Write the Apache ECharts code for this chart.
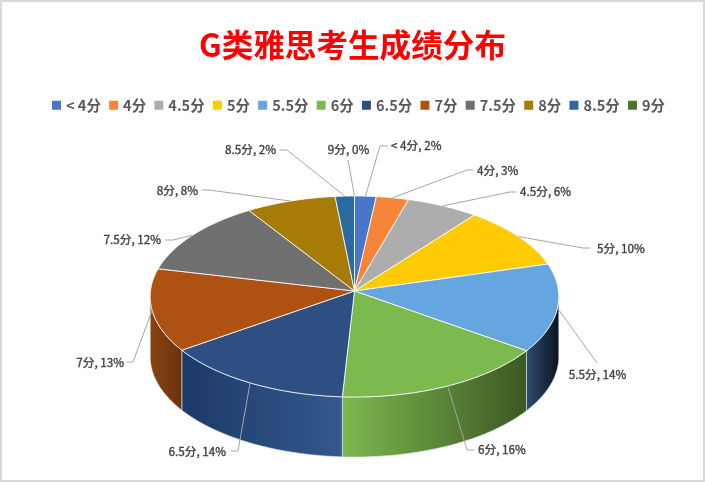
<!DOCTYPE html>
<html><head><meta charset="utf-8">
<style>html,body{margin:0;padding:0;background:#fff}#c{width:705px;height:482px}</style>
<script src="https://cdn.jsdelivr.net/npm/echarts@6/dist/echarts.min.js"></script>
</head><body><div id="c"></div>
<script>
const titleText = 'G类雅思考生成绩分布';
const categories = ['< 4分','4分','4.5分','5分','5.5分','6分','6.5分','7分','7.5分','8分','8.5分','9分'];
const shares = [1.8,2.7,6.0,10.1,14.2,16.1,14.4,13.3,12.3,7.5,1.6,0];
const legendColors = ['#4a76c9','#f6853a','#adadad','#ffcb05','#66a6e0','#7cb94f','#2d4f84','#ae5214','#707070','#a67c07','#2a6aa0','#4a7433'];
const wallStops = {4:['#2e4d74','#0c141d'],5:['#7cb94f','#3c5822'],6:['#1c3a68','#34598d'],7:['#8a4412','#6a320c']};
// leader-line bend and label anchor: [bendX, bendY, endX, endY, textX, textY, align]
const labelLayout = [
  [380,146,388,146,391,146,'left'],[467,170,473,170,477,171,'left'],[510,192,516,192,520,192,'left'],
  [583,248,590,248,597,249,'left'],[597,363,597,363,597.5,375,'center'],[467,450,474,450,478,450,'left'],
  [238,451,231,451,226,452,'right'],[133,362,127,362,124,363,'right'],[173,240,165,240,161,240,'right'],
  [209,190,202,190,198,191,'right'],[287,150,280,150,276,150,'right'],[348,160,348,160,348.5,150,'center']
];
const CX=354.5, CY=291, RX=204, RY=100.2, PERSP=0.0547, DEPTH=60;
const FONT='"Noto Sans CJK SC","Noto Sans",sans-serif';
const TAU=Math.PI*2, total=shares.reduce((a,b)=>a+b,0);
function rim(a){const X=Math.sin(a),Y=-Math.cos(a),s=1/(1-PERSP*Y);return [CX+RX*X*s,CY+RY*Y*s];}
function arc(a0,a1){const n=Math.max(2,Math.ceil((a1-a0)/0.02)),p=[];for(let i=0;i<=n;i++)p.push(rim(a0+(a1-a0)*i/n));return p;}
const WALL_A=Math.acos(-PERSP);
function startOf(i){return shares.slice(0,i).reduce((a,b)=>a+b,0)/total*TAU;}
function renderSlice(i,color){
  const a0=startOf(i),a1=startOf(i+1),kids=[];
  if(wallStops[i]){
    const w0=Math.max(a0,WALL_A),w1=Math.min(a1,TAU-WALL_A),top=arc(w0,w1);
    const bot=top.slice().reverse().map(p=>[p[0],p[1]+DEPTH]);
    kids.push({type:'polygon',z2:1,shape:{points:top.concat(bot)},silent:true,style:{
      fill:new echarts.graphic.LinearGradient(0,0,1,0,[{offset:0,color:wallStops[i][0]},{offset:1,color:wallStops[i][1]}]),
      stroke:'rgba(225,230,235,0.75)',lineWidth:0.8}});
  }
  if(a1>a0){
    kids.push({type:'polygon',z2:2,shape:{points:[[CX,CY]].concat(arc(a0,a1))},silent:true,
      style:{fill:color,stroke:'rgba(255,255,255,0.8)',lineWidth:1}});
  }
  const L=labelLayout[i],r=rim((a0+a1)/2);
  kids.push({type:'polyline',z2:3,silent:true,shape:{points:[r,[L[0],L[1]],[L[2],L[3]]]},style:{fill:'none',stroke:'#a6a6a6',lineWidth:1}});
  kids.push({type:'text',z2:4,silent:true,style:{x:L[4],y:L[5],text:categories[i]+', '+Math.round(shares[i])+'%',
    font:'11.7px '+FONT,fill:'#404040',stroke:'#404040',lineWidth:0.35,align:L[6],verticalAlign:'middle'}});
  return {type:'group',children:kids};
}
const chart=echarts.init(document.getElementById('c'),null,{renderer:'canvas'});
chart.setOption({
  animation:false,backgroundColor:'#fff',
  title:{text:titleText,left:'center',top:24,textStyle:{color:'#ff0000',fontSize:31.6,fontWeight:'bold',fontFamily:FONT}},
  legend:{left:52,top:98,padding:0,itemWidth:9,itemHeight:9,itemGap:8.2,icon:'rect',data:categories,selectedMode:false,
    textStyle:{color:'#595959',fontSize:14.5,fontWeight:'bold',fontFamily:FONT}},
  graphic:[{type:'rect',silent:true,z:-1,shape:{x:1,y:1,width:703,height:480},style:{fill:'none',stroke:'#d9d9d9',lineWidth:2}}],
  series:categories.map((name,i)=>({
    type:'custom',name,coordinateSystem:'none',silent:true,
    itemStyle:{color:legendColors[i]},data:[[shares[i]]],
    renderItem:()=>renderSlice(i,legendColors[i])
  }))
});
</script></body></html>
